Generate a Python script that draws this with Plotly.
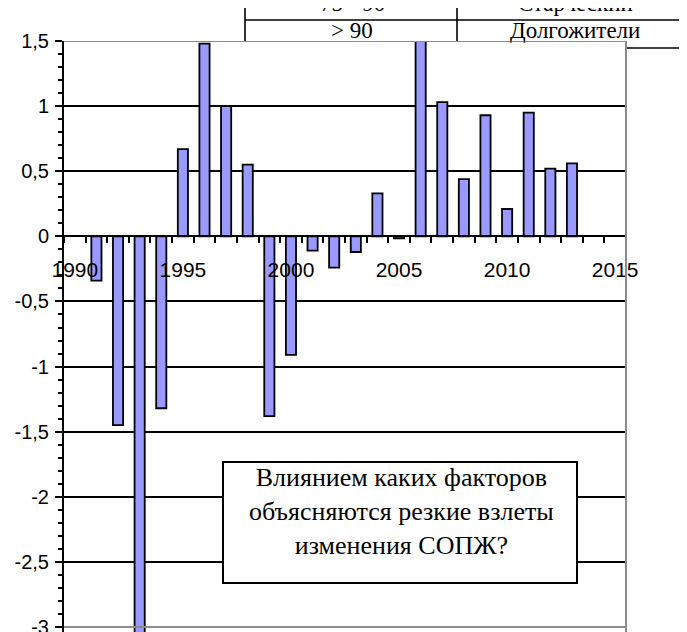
import plotly.graph_objects as go

# ---- data ----
years = list(range(1991, 2014))
values = [-0.34, -1.45, -3.20, -1.32, 0.67, 1.48, 1.00, 0.55, -1.38, -0.91,
          -0.11, -0.24, -0.12, 0.33, -0.015, 1.50, 1.03, 0.44, 0.93, 0.21,
          0.95, 0.52, 0.56]
x_label_years = [1990, 1995, 2000, 2005, 2010, 2015]
x_tick_labels = ["1990", "1995", "2000", "2005", "2010", "2015"]
y_tick_values = [1.5, 1, 0.5, 0, -0.5, -1, -1.5, -2, -2.5, -3]
y_tick_labels = ["1,5", "1", "0,5", "0", "-0,5", "-1", "-1,5", "-2", "-2,5", "-3"]
table_left = ["75 - 90", "> 90"]
table_right = ["Старческий", "Долгожители"]
question_text = "Влиянием каких факторов<br>объясняются резкие взлеты<br>изменения СОПЖ?"

W, H = 687, 632
OFF = 8  # page offset of the plot div inside the browser window

def px(x):
    return (x - OFF) / W

def py(y):
    return 1 - (y - OFF) / H

X_RANGE = [1989.5, 2015.5]
Y_RANGE = [-3.038, 1.5]
x_dom = [px(64), px(626)]
y_dom = [py(632), py(41)]
y0_pos = y_dom[0] + (y_dom[1] - y_dom[0]) * (0 - Y_RANGE[0]) / (Y_RANGE[1] - Y_RANGE[0])

SANS = "Liberation Sans, Arial, sans-serif"
SERIF = "Liberation Serif, Times New Roman, serif"

fig = go.Figure()
fig.add_trace(go.Bar(
    x=years, y=values,
    marker=dict(color="#9999FF", line=dict(color="black", width=1.8)),
    hoverinfo="x+y",
))

shapes = []
GRAY = "#8c8c8c"
# plot-area border (gray) top, right, bottom
shapes.append(dict(type="line", xref="paper", yref="y", x0=x_dom[0], x1=x_dom[1], y0=1.5, y1=1.5,
                   line=dict(color=GRAY, width=2), layer="above"))
shapes.append(dict(type="line", xref="paper", yref="y", x0=x_dom[0], x1=x_dom[1], y0=-3, y1=-3,
                   line=dict(color=GRAY, width=2), layer="above"))
shapes.append(dict(type="line", xref="paper", yref="paper", x0=x_dom[1], x1=x_dom[1], y0=y_dom[0], y1=y_dom[1],
                   line=dict(color=GRAY, width=2), layer="above"))
# question box
shapes.append(dict(type="rect", xref="paper", yref="paper", x0=px(223), x1=px(577), y0=py(583), y1=py(462),
                   fillcolor="white", line=dict(color="black", width=2), layer="above"))
# table fragment at the top
tl = dict(color="black", width=1.6)
shapes.append(dict(type="line", xref="paper", yref="paper", x0=px(245), x1=px(245), y0=py(8), y1=py(41), line=tl))
shapes.append(dict(type="line", xref="paper", yref="paper", x0=px(457), x1=px(457), y0=py(0), y1=py(41), line=tl))
shapes.append(dict(type="line", xref="paper", yref="paper", x0=px(245), x1=px(700), y0=py(20), y1=py(20), line=tl))
shapes.append(dict(type="line", xref="paper", yref="paper", x0=px(627), x1=px(700), y0=py(48), y1=py(48), line=tl))

annotations = [
    dict(text=question_text, xref="paper", yref="paper", x=px(401), y=py(511),
         xanchor="center", yanchor="middle", showarrow=False, align="center",
         font=dict(family=SERIF, size=26, color="black")),
    dict(text=table_left[0], xref="paper", yref="paper", x=px(352), y=py(4),
         xanchor="center", yanchor="middle", showarrow=False,
         font=dict(family=SERIF, size=23, color="black")),
    dict(text=table_left[1], xref="paper", yref="paper", x=px(352), y=py(31),
         xanchor="center", yanchor="middle", showarrow=False,
         font=dict(family=SERIF, size=23, color="black")),
    dict(text=table_right[0], xref="paper", yref="paper", x=px(575), y=py(4),
         xanchor="center", yanchor="middle", showarrow=False,
         font=dict(family=SERIF, size=23, color="black")),
    dict(text=table_right[1], xref="paper", yref="paper", x=px(575), y=py(31),
         xanchor="center", yanchor="middle", showarrow=False,
         font=dict(family=SERIF, size=23, color="black")),
]

fig.update_layout(
    width=W, height=H, autosize=False,
    margin=dict(l=0, r=0, t=0, b=0, pad=0, autoexpand=False),
    paper_bgcolor="white", plot_bgcolor="white",
    showlegend=False, bargap=0.53,
    xaxis=dict(
        domain=x_dom, range=X_RANGE, anchor="free", position=y0_pos,
        showline=True, linecolor="black", linewidth=2,
        tickmode="array", tickvals=x_label_years, ticktext=x_tick_labels,
        ticks="outside", ticklen=0, tickcolor="black",
        minor=dict(tickmode="linear", tick0=1989.5, dtick=1, ticks="outside",
                   ticklen=6, tickcolor="black", tickwidth=1.5),
        showgrid=False, zeroline=False, ticklabelstandoff=14, automargin=False,
        tickfont=dict(family=SANS, size=21, color="black"),
    ),
    yaxis=dict(
        domain=y_dom, range=Y_RANGE, anchor="x",
        showline=True, linecolor="black", linewidth=2,
        tickmode="array", tickvals=y_tick_values, ticktext=y_tick_labels,
        ticks="outside", ticklen=7, tickwidth=1.5, tickcolor="black",
        minor=dict(tickmode="linear", tick0=0, dtick=0.1, ticks="outside",
                   ticklen=4, tickcolor="black", tickwidth=1.5),
        showgrid=True, gridcolor="black", gridwidth=1.5, zeroline=False,
        ticklabelstandoff=2, automargin=False,
        tickfont=dict(family=SANS, size=20, color="black"),
    ),
    shapes=shapes,
    annotations=annotations,
)

fig.write_html("out.html")
